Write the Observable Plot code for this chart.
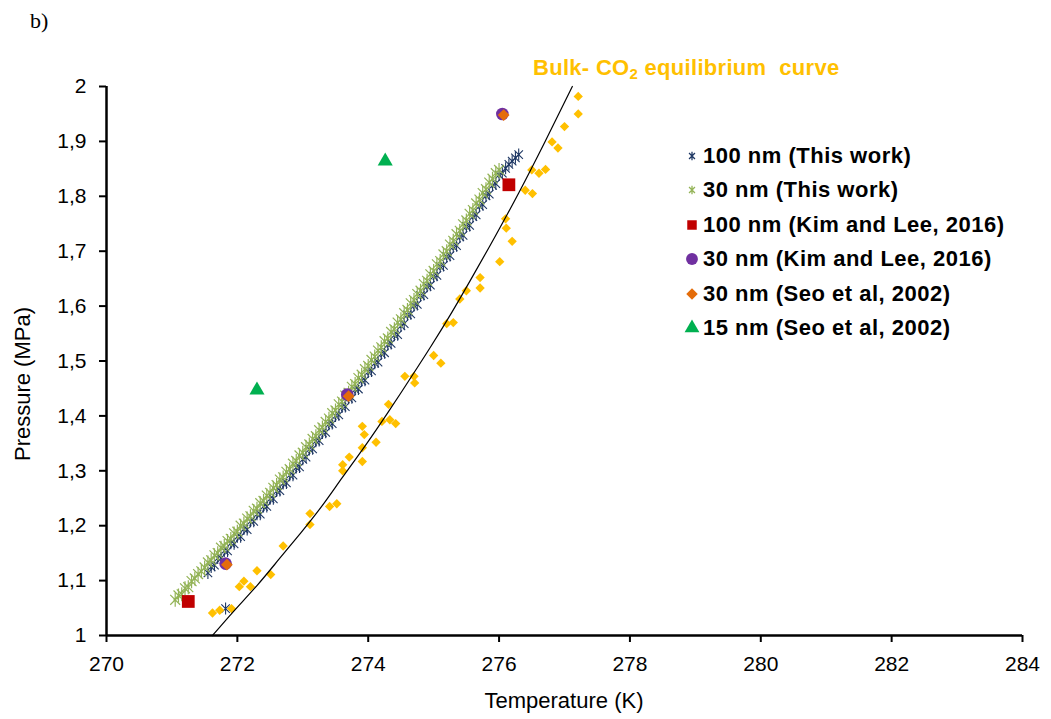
<!DOCTYPE html>
<html><head><meta charset="utf-8">
<script src="https://cdn.jsdelivr.net/npm/d3@7"></script>
<script src="https://cdn.jsdelivr.net/npm/@observablehq/plot@0.6"></script>
<style>
body{margin:0;background:#fff;}
#wrap{position:relative;width:1051px;height:719px;font-family:"Liberation Sans",Arial,sans-serif;color:#000;}
#wrap svg.plot{position:absolute;left:0;top:0;}
.ov{position:absolute;white-space:nowrap;}
.leg{position:absolute;left:682px;height:34px;display:flex;align-items:center;font-weight:bold;font-size:22px;letter-spacing:0.5px;white-space:nowrap;}
.leg svg{width:20px;height:20px;margin-right:1px;flex:none;}
</style></head><body><div id="wrap"></div>
<script>
// ---------- data ----------
const xTicks = [270, 272, 274, 276, 278, 280, 282, 284];
const yTicks = [1, 1.1, 1.2, 1.3, 1.4, 1.5, 1.6, 1.7, 1.8, 1.9, 2];

// 30 nm (This work)
const nm30T = [271.05,271.10,271.15,271.20,271.25,271.30,271.35,271.40,271.45,271.50,
271.55,271.60,271.65,271.70,271.75,271.80,271.85,271.90,271.95,272.00,
272.05,272.10,272.15,272.20,272.25,272.30,272.35,272.40,272.45,272.50,
272.55,272.60,272.65,272.70,272.75,272.80,272.85,272.90,272.95,273.00,
273.05,273.10,273.15,273.20,273.25,273.30,273.35,273.40,273.45,273.50,
273.55,273.60,273.65,273.70,273.75,273.80,273.85,273.90,273.95,274.00,
274.05,274.10,274.15,274.20,274.25,274.30,274.35,274.40,274.45,274.50,
274.55,274.60,274.65,274.70,274.75,274.80,274.85,274.90,274.95,275.00,
275.05,275.10,275.15,275.20,275.25,275.30,275.35,275.40,275.45,275.50,
275.55,275.60,275.65,275.70,275.75,275.80,275.85,275.90,275.95,276.00];
const nm30P = [1.065,1.073,1.075,1.086,1.088,1.099,1.104,1.112,1.117,1.124,
1.133,1.137,1.146,1.150,1.160,1.163,1.172,1.176,1.186,1.189,
1.200,1.204,1.213,1.217,1.227,1.231,1.241,1.245,1.255,1.260,
1.269,1.274,1.284,1.288,1.298,1.303,1.313,1.318,1.328,1.333,
1.343,1.348,1.358,1.363,1.374,1.379,1.389,1.395,1.405,1.410,
1.421,1.426,1.437,1.442,1.453,1.458,1.469,1.475,1.485,1.491,
1.502,1.508,1.519,1.525,1.536,1.541,1.553,1.558,1.570,1.576,
1.587,1.593,1.605,1.611,1.622,1.628,1.640,1.646,1.658,1.664,
1.676,1.682,1.694,1.700,1.712,1.719,1.731,1.737,1.749,1.756,
1.768,1.775,1.787,1.794,1.806,1.813,1.825,1.832,1.842,1.848];

// 100 nm (This work)
const nm100T = [271.55,271.60,271.65,271.70,271.75,271.80,271.85,271.90,271.95,272.00,
272.05,272.10,272.15,272.20,272.25,272.30,272.35,272.40,272.45,272.50,
272.55,272.60,272.65,272.70,272.75,272.80,272.85,272.90,272.95,273.00,
273.05,273.10,273.15,273.20,273.25,273.30,273.35,273.40,273.45,273.50,
273.55,273.60,273.65,273.70,273.75,273.80,273.85,273.90,273.95,274.00,
274.05,274.10,274.15,274.20,274.25,274.30,274.35,274.40,274.45,274.50,
274.55,274.60,274.65,274.70,274.75,274.80,274.85,274.90,274.95,275.00,
275.05,275.10,275.15,275.20,275.25,275.30,275.35,275.40,275.45,275.50,
275.55,275.60,275.65,275.70,275.75,275.80,275.85,275.90,275.95,276.00,
276.05,276.10,276.15,276.20,276.25,276.30,271.82];
const nm100P = [1.114,1.125,1.128,1.141,1.141,1.154,1.154,1.168,1.167,1.180,
1.180,1.194,1.193,1.208,1.208,1.221,1.221,1.235,1.235,1.249,
1.249,1.263,1.264,1.277,1.278,1.292,1.292,1.306,1.307,1.321,
1.325,1.339,1.340,1.354,1.355,1.369,1.370,1.385,1.386,1.400,
1.402,1.416,1.417,1.432,1.433,1.448,1.449,1.464,1.465,1.480,
1.482,1.496,1.498,1.513,1.515,1.530,1.532,1.547,1.548,1.564,
1.568,1.584,1.586,1.601,1.603,1.619,1.621,1.636,1.638,1.654,
1.656,1.672,1.674,1.690,1.692,1.708,1.710,1.726,1.729,1.745,
1.747,1.763,1.766,1.782,1.785,1.801,1.804,1.820,1.823,1.839,
1.842,1.851,1.858,1.864,1.870,1.876,1.049];

// 100 nm (Kim and Lee, 2016)
const kim100T = [271.25, 276.15];
const kim100P = [1.062, 1.821];
// 30 nm (Kim and Lee, 2016)
const kim30T = [271.82, 273.68, 276.05];
const kim30P = [1.131, 1.439, 1.950];
// 30 nm (Seo et al, 2002)
const seo30T = [271.84, 273.70, 276.07];
const seo30P = [1.129, 1.436, 1.948];
// 15 nm (Seo et al, 2002)
const seo15T = [272.30, 274.26];
const seo15P = [1.447, 1.864];

// Bulk CO2 data points
const bulkT = [271.62,271.73,271.91,272.03,272.10,272.20,272.30,272.51,272.70,273.11,
273.11,273.41,273.52,273.61,273.61,273.71,273.91,273.91,273.91,273.94,
274.12,274.21,274.31,274.33,274.42,274.56,274.70,274.71,275.00,275.11,
275.20,275.30,275.40,275.50,275.71,275.71,276.01,276.10,276.11,276.20,
276.40,276.50,276.51,276.61,276.71,276.81,276.90,277.00,277.21,277.21];
const bulkP = [1.041,1.046,1.049,1.089,1.099,1.089,1.118,1.111,1.163,1.222,
1.202,1.235,1.240,1.311,1.300,1.325,1.381,1.342,1.317,1.366,
1.352,1.390,1.421,1.393,1.386,1.472,1.472,1.460,1.510,1.496,
1.568,1.570,1.613,1.628,1.652,1.633,1.681,1.759,1.742,1.718,
1.811,1.848,1.805,1.842,1.849,1.899,1.888,1.927,1.982,1.950];

// Bulk CO2 equilibrium curve
const curveT = [271.62, 271.95, 272.30, 272.63, 272.97, 273.30, 273.60, 273.95, 274.30, 274.62, 274.95, 275.28, 275.60, 275.95, 276.30, 276.70, 277.12];
const curveP = [1.000, 1.045, 1.091, 1.138, 1.187, 1.237, 1.287, 1.345, 1.406, 1.464, 1.525, 1.589, 1.655, 1.729, 1.806, 1.899, 2.000];

const legendLabels = ["100 nm (This work)", "30 nm (This work)", "100 nm (Kim and Lee, 2016)",
  "30 nm (Kim and Lee, 2016)", "30 nm (Seo et al, 2002)", "15 nm (Seo et al, 2002)"];
const colors = {nm100:"#1F3864", nm30:"#93B356", kim100:"#C00000", kim30:"#7030A0", seo30:"#E46C0A", seo15:"#00B050", bulk:"#FFC000"};

// ---------- helpers ----------
const zip = (T, P) => T.map((t, i) => ({T: t, P: P[i]}));
const excelStar = {draw(ctx, size) {
  const r = Math.sqrt(size / Math.PI), d = r * 0.7071;
  ctx.moveTo(0, -r); ctx.lineTo(0, r);
  ctx.moveTo(-d, -d); ctx.lineTo(d, d);
  ctx.moveTo(-d, d); ctx.lineTo(d, -d);
}};
const fmt = d => (d === 1 || d === 2) ? String(d) : d.toFixed(1).replace(".", ",");

const plot = Plot.plot({
  width: 1051, height: 719,
  marginLeft: 106, marginRight: 29, marginTop: 86, marginBottom: 84,
  style: {fontFamily: '"Liberation Sans", Arial, sans-serif', fontSize: "21px", color: "#000", background: "transparent"},
  x: {domain: [270, 284], label: null},
  y: {domain: [1, 2], label: null},
  marks: [
    Plot.axisX({ticks: xTicks, tickSize: 7, tickPadding: 14, strokeWidth: 2, fontSize: 21, tickFormat: d => String(d), label: null}),
    Plot.axisY({ticks: yTicks, tickSize: 7, tickPadding: 13, strokeWidth: 2, fontSize: 21, tickFormat: fmt, label: null}),
    Plot.dot(zip(nm100T, nm100P), {x: "T", y: "P", symbol: excelStar, r: 6, fill: "none", stroke: colors.nm100, strokeWidth: 1.1}),
    Plot.dot(zip(nm30T, nm30P), {x: "T", y: "P", symbol: excelStar, r: 7, fill: "none", stroke: colors.nm30, strokeWidth: 1.2}),
    Plot.dot(zip(bulkT, bulkP), {x: "T", y: "P", symbol: "diamond2", r: 4.2, fill: colors.bulk, stroke: "none"}),
    Plot.line(zip(curveT, curveP), {x: "T", y: "P", curve: "natural", stroke: "#000", strokeWidth: 1.2}),
    Plot.dot(zip(kim100T, kim100P), {x: "T", y: "P", symbol: "square", r: 7.2, fill: colors.kim100, stroke: "none"}),
    Plot.dot(zip(kim30T, kim30P), {x: "T", y: "P", symbol: "circle", r: 6.3, fill: colors.kim30, stroke: "none"}),
    Plot.dot(zip(seo30T, seo30P), {x: "T", y: "P", symbol: "diamond2", r: 5.3, fill: colors.seo30, stroke: "none"}),
    Plot.dot(zip(seo15T, seo15P), {x: "T", y: "P", symbol: "triangle", r: 5.6, fill: colors.seo15, stroke: "none"}),
    Plot.ruleY([1], {stroke: "#000", strokeWidth: 2.5}),
    Plot.ruleX([270], {stroke: "#000", strokeWidth: 2.5})
  ]
});
plot.classList.add("plot");
const wrap = document.getElementById("wrap");
wrap.appendChild(plot);

// ---------- overlay texts ----------
function addDiv(html, css) {
  const d = document.createElement("div");
  d.className = "ov"; d.innerHTML = html; d.style.cssText += css;
  wrap.appendChild(d); return d;
}
addDiv("b)", "left:30px;top:8px;font-family:'Liberation Serif','Times New Roman',serif;font-size:22px;");
addDiv("Temperature (K)", "left:0;width:1128px;top:688px;text-align:center;font-size:22px;");
addDiv("Pressure (MPa)", "left:23px;top:384px;font-size:22px;transform:translate(-50%,-50%) rotate(-90deg);");
addDiv("Bulk- CO<sub style='font-size:15px;vertical-align:-4px;line-height:0'>2</sub> equilibrium&nbsp; curve",
  "left:533px;top:55px;font-size:22px;font-weight:bold;letter-spacing:0.3px;color:" + colors.bulk + ";");

// ---------- legend ----------
const legSyms = [
  {sym: excelStar, size: 55, color: colors.nm100, stroke: true},
  {sym: excelStar, size: 55, color: colors.nm30, stroke: true},
  {sym: d3.symbolSquare, size: 90, color: colors.kim100},
  {sym: d3.symbolCircle, size: 110, color: colors.kim30},
  {sym: d3.symbolDiamond2, size: 85, color: colors.seo30},
  {sym: d3.symbolTriangle, size: 95, color: colors.seo15}
];
legendLabels.forEach((lab, i) => {
  const row = document.createElement("div");
  row.className = "leg";
  row.style.top = (156 + i * 34.4 - 17) + "px";
  const s = legSyms[i];
  const path = d3.symbol(s.sym, s.size)();
  const attrs = s.stroke ? `fill="none" stroke="${s.color}" stroke-width="1.3"` : `fill="${s.color}"`;
  row.innerHTML = `<svg viewBox="-10 -10 20 20"><path d="${path}" ${attrs}/></svg><span>${lab}</span>`;
  wrap.appendChild(row);
});
</script>
</body></html>
